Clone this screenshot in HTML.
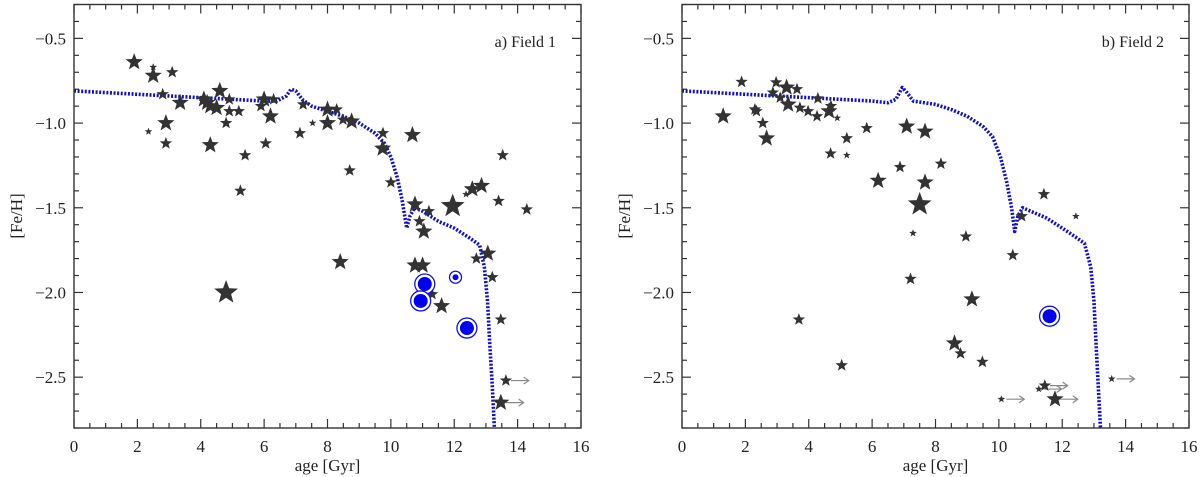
<!DOCTYPE html>
<html><head><meta charset="utf-8">
<style>
html,body{margin:0;padding:0;background:#fff;}
svg{display:block;}
svg text{font-family:"Liberation Serif","DejaVu Serif",serif;}
</style></head>
<body>
<svg id="chart" width="1200" height="477" viewBox="0 0 1200 477"></svg>
<script>
// ---- data ----
const f1Age = [1.9,2.5,2.5,3.1,2.8,3.35,2.35,2.9,2.9,4.3,5.4,5.25,4.8,4.6,4.1,4.3,4.5,4.9,4.8,4.9,5.2,6.0,5.9,6.3,6.2,6.05,4.2,
 7.23,7.13,7.53,8.0,8.0,8.29,8.49,8.76,9.75,9.74,8.7,10.0,10.68,13.53,12.37,12.57,12.86,13.4,14.29,11.95,10.76,11.2,10.9,11.04,
 8.4,10.76,11.0,13.06,12.7,13.2,11.3,11.6,13.47,13.63,13.47];
const f1Fe = [-0.64,-0.67,-0.72,-0.70,-0.83,-0.88,-1.05,-1.0,-1.12,-1.13,-1.19,-1.40,-2.0,-0.81,-0.86,-0.90,-0.91,-0.86,-1.0,-0.93,-0.93,-0.86,-0.90,-0.86,-0.96,-1.12,-0.88,
 -0.89,-1.06,-1.0,-0.92,-1.0,-0.92,-0.98,-0.99,-1.06,-1.15,-1.28,-1.35,-1.07,-1.19,-1.42,-1.39,-1.37,-1.46,-1.51,-1.49,-1.48,-1.52,-1.58,-1.64,
 -1.82,-1.84,-1.84,-1.77,-1.80,-1.91,-2.01,-2.08,-2.16,-2.52,-2.65];
const f1Size = [3,1,3,2,2,3,1,3,2,3,2,2,4,3,3,3,3,2,2,2,2,3,2,2,3,2,3,
 2,2,1,3,3,2,2,3,2,3,2,2,3,2,1,3,3,2,2,4,3,2,2,3,
 3,3,3,3,2,2,2,3,2,2,3];
const f1ArrowAge = [13.63,13.47];
const f1ArrowFe = [-2.52,-2.65];
const f1CircAge = [11.07,10.94,12.04,12.4];
const f1CircFe = [-1.95,-2.05,-1.91,-2.21];
const f1CircSize = [2,2,1,2];

const f2Age = [1.3,1.88,2.3,2.35,2.55,2.67,2.97,2.87,3.3,3.63,3.1,3.35,3.72,3.98,4.29,4.26,4.64,4.7,4.9,5.2,4.69,5.2,5.83,6.19,3.69,5.04,
 7.09,7.67,6.88,8.17,7.67,7.5,7.29,7.21,8.96,9.15,10.44,10.72,11.42,12.43,8.6,8.79,9.48,11.45,11.26,11.77,10.08,13.56];
const f2Fe = [-0.96,-0.757,-0.92,-0.93,-1.0,-1.09,-0.76,-0.82,-0.79,-0.80,-0.85,-0.89,-0.91,-0.93,-0.855,-0.96,-0.93,-0.90,-0.97,-1.09,-1.18,-1.19,-1.03,-1.34,-2.16,-2.43,
 -1.02,-1.05,-1.26,-1.24,-1.35,-1.48,-1.65,-1.92,-1.67,-2.04,-1.78,-1.55,-1.42,-1.55,-2.3,-2.36,-2.41,-2.55,-2.57,-2.63,-2.63,-2.51];
const f2Size = [3,2,2,2,2,3,2,2,3,2,2,3,2,2,2,2,3,2,1,2,2,1,2,3,2,2,
 3,3,2,2,3,4,1,2,2,3,2,2,2,1,3,2,2,2,1,3,1,1];
const f2ArrowAge = [10.08,11.45,11.26,11.77,13.56];
const f2ArrowFe = [-2.63,-2.55,-2.57,-2.63,-2.51];
const f2CircAge = [11.6];
const f2CircFe = [-2.14];
const f2CircSize = [2];

const m1Age = [0,1,2,3,4,5,6,6.4,6.7,6.85,7.0,7.2,7.5,8,8.5,9,9.5,9.8,10.0,10.2,10.35,10.5,10.6,10.75,11,11.5,12,12.5,12.8,12.95,13.05,13.12,13.2,13.28];
const m1Fe = [-0.81,-0.82,-0.83,-0.84,-0.85,-0.86,-0.87,-0.87,-0.84,-0.80,-0.81,-0.86,-0.90,-0.93,-0.96,-1.0,-1.06,-1.12,-1.2,-1.32,-1.45,-1.62,-1.55,-1.50,-1.52,-1.58,-1.62,-1.68,-1.72,-1.85,-2.05,-2.3,-2.55,-2.85];
const m2Age = [0,1,2,3,4,5,6,6.5,6.75,6.95,7.1,7.3,8,8.5,9,9.5,9.8,10.05,10.25,10.4,10.5,10.6,10.75,11,11.5,12,12.4,12.7,12.9,13.0,13.08,13.15,13.22];
const m2Fe = [-0.81,-0.82,-0.83,-0.84,-0.85,-0.86,-0.87,-0.88,-0.86,-0.79,-0.82,-0.87,-0.89,-0.92,-0.96,-1.02,-1.08,-1.2,-1.35,-1.5,-1.64,-1.55,-1.50,-1.52,-1.56,-1.62,-1.67,-1.71,-1.85,-2.05,-2.35,-2.6,-2.85];

const xTicks = [0,2,4,6,8,10,12,14,16];
const yTicks = [-0.5,-1.0,-1.5,-2.0,-2.5];
const yTickLabels = ["\u22120.5","\u22121.0","\u22121.5","\u22122.0","\u22122.5"];

// ---- drawing ----
const NS = "http://www.w3.org/2000/svg";
const FONT = '"Liberation Serif", "DejaVu Serif", serif';
const svg = document.getElementById('chart');
function mk(tag, attrs, parent){ const e=document.createElementNS(NS,tag); for(const k in attrs) e.setAttribute(k,attrs[k]); (parent||svg).appendChild(e); return e; }
const starR = [0,4,6.5,9,12.5];

function panel(x0, x1, name, label, sAge, sFe, sSize, aAge, aFe, cAge, cFe, cSize, mAge, mFe){
  const top=4.5, bot=428;
  const X = v => x0 + (v-0)/16*(x1-x0);
  const Y = v => top + (-0.3 - v)/2.5*(bot-top);
  const g = mk('g',{});
  
  
  const tg = mk('g',{stroke:'#333','stroke-width':1.2},g);
  for(let v=0; v<=16.001; v+=0.5){
    const major = Math.abs(v/2-Math.round(v/2))<1e-6;
    const L = major?9:5;
    mk('line',{x1:X(v),x2:X(v),y1:bot,y2:bot-L},tg);
    mk('line',{x1:X(v),x2:X(v),y1:top,y2:top+L},tg);
  }
  for(let i=3;i<=28;i++){
    const v=-i/10; const major=(i%5===0); const L=major?9:5;
    mk('line',{x1:x0,x2:x0+L,y1:Y(v),y2:Y(v)},tg);
    mk('line',{x1:x1,x2:x1-L,y1:Y(v),y2:Y(v)},tg);
  }
  xTicks.forEach(v=>{
    const t=mk('text',{x:X(v),y:452,'text-anchor':'middle','font-size':17,fill:'#222','font-family':FONT},g);
    t.textContent=v;
    
    
  });
  yTicks.forEach((v,i)=>{
    const t=mk('text',{x:x0-8,y:Y(v)+6,'text-anchor':'end','font-size':17,fill:'#222','font-family':FONT},g);
    t.textContent=yTickLabels[i];
    
    
  });
  const pts = mAge.map((a,i)=>X(a)+','+Y(mFe[i])).join(' ');
  const clip = mk('clipPath',{id:'clip'+name},g);
  mk('rect',{x:x0,y:top,width:x1-x0,height:bot-top},clip);
  const pl = mk('polyline',{points:pts,fill:'none',stroke:'#1010c8','stroke-width':3.6,'stroke-dasharray':'2 1.6','stroke-linejoin':'round','clip-path':'url(#clip'+name+')'},g);
  
  
  aAge.forEach((a,i)=>{
    const y=Y(aFe[i]); const xs=X(a)+5, xe=X(a+0.72);
    const ar=mk('g',{stroke:'#888','stroke-width':1.2,fill:'none'},g);
    
    
    mk('line',{x1:xs,x2:xe,y1:y,y2:y},ar);
    mk('polyline',{points:(xe-5)+','+(y-3.5)+' '+xe+','+y+' '+(xe-5)+','+(y+3.5)},ar);
  });
  sAge.forEach((a,i)=>{
    const R=starR[sSize[i]], r=R*0.42, cx=X(a), cy=Y(sFe[i]);
    let p=[];
    for(let k=0;k<10;k++){ const ang=-Math.PI/2+k*Math.PI/5; const rr=k%2?r:R; p.push((cx+rr*Math.cos(ang)).toFixed(1)+','+(cy+rr*Math.sin(ang)).toFixed(1)); }
    const s=mk('polygon',{points:p.join(' '),fill:'#333'},g);
    
    
  });
  cAge.forEach((a,i)=>{
    const cx=X(a), cy=Y(cFe[i]); const big=cSize[i]===2;
    const c=mk('g',{},g);
    
    
    mk('circle',{cx:cx,cy:cy,r:big?10:6,fill:'#fff',stroke:'#1010e0','stroke-width':1.3},c);
    mk('circle',{cx:cx,cy:cy,r:big?7:3,fill:'#0000ee'},c);
  });
  const fr=mk('rect',{x:x0,y:top,width:x1-x0,height:bot-top,fill:'none',stroke:'#333','stroke-width':1.4},g);
  
  
  const lt=mk('text',{x:x1-25,y:47,'text-anchor':'end','font-size':16,fill:'#222','font-family':FONT},g);
  lt.textContent=label;
  
  
  const xl=mk('text',{x:(x0+x1)/2,y:471,'text-anchor':'middle','font-size':17,fill:'#222','font-family':FONT},g);
  xl.textContent='age [Gyr]';
  
  
  const yl=mk('text',{x:0,y:0,'text-anchor':'middle','font-size':17,fill:'#222','font-family':FONT,transform:'translate('+(x0-52)+',216) rotate(-90)'},g);
  yl.textContent='[Fe/H]';
  
  
}
panel(74,581,'panel-field-1','a) Field 1',f1Age,f1Fe,f1Size,f1ArrowAge,f1ArrowFe,f1CircAge,f1CircFe,f1CircSize,m1Age,m1Fe);
panel(682,1189,'panel-field-2','b) Field 2',f2Age,f2Fe,f2Size,f2ArrowAge,f2ArrowFe,f2CircAge,f2CircFe,f2CircSize,m2Age,m2Fe);
</script>
</body></html>
